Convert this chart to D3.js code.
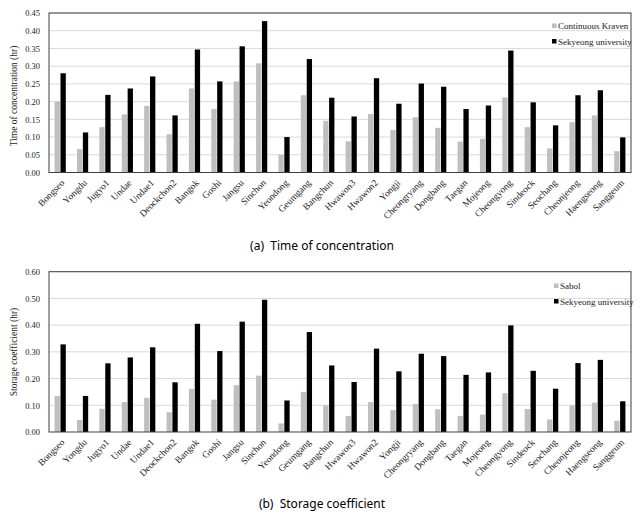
<!DOCTYPE html>
<html>
<head>
<meta charset="utf-8">
<script src="https://cdn.jsdelivr.net/npm/d3@7/dist/d3.min.js"></script>
<style>
  html, body { margin: 0; padding: 0; background: #fff; }
  svg { display: block; }
</style>
</head>
<body>
<svg id="chart" width="643" height="516"></svg>
<script>
const categories = ["Bongseo","Yongdu","Jugyo1","Undae","Undae1","Deockchon2","Bangok","Goshi","Jangsu","Sinchon","Yeondong","Geumgang","Bangchun","Hwawon3","Hwawon2","Yongji","Cheongryang","Dongbang","Taegan","Mojeong","Cheongyong","Sindeock","Seochang","Cheonjeong","Haengseong","Sanggeum"];

const tcKraven   = [0.200,0.066,0.128,0.164,0.188,0.108,0.237,0.179,0.257,0.308,0.050,0.218,0.146,0.088,0.165,0.120,0.156,0.126,0.087,0.095,0.212,0.128,0.068,0.142,0.161,0.060];
const tcSekyeong = [0.280,0.113,0.219,0.237,0.271,0.161,0.347,0.257,0.356,0.427,0.100,0.320,0.211,0.158,0.266,0.194,0.251,0.242,0.179,0.189,0.344,0.198,0.133,0.218,0.232,0.099];

const scSabol    = [0.135,0.045,0.087,0.112,0.128,0.074,0.161,0.121,0.175,0.211,0.032,0.150,0.100,0.060,0.112,0.082,0.105,0.085,0.060,0.065,0.145,0.086,0.047,0.099,0.110,0.042];
const scSekyeong = [0.328,0.135,0.257,0.279,0.317,0.186,0.405,0.303,0.413,0.495,0.118,0.374,0.249,0.187,0.312,0.227,0.293,0.284,0.214,0.223,0.399,0.229,0.162,0.258,0.270,0.115];

const tcTicks = [0.00,0.05,0.10,0.15,0.20,0.25,0.30,0.35,0.40,0.45];
const scTicks = [0.00,0.10,0.20,0.30,0.40,0.50,0.60];

const tcSeriesNames = ["Continuous Kraven","Sekyeong university"];
const scSeriesNames = ["Sabol","Sekyeong university"];
const seriesColors = ["#bfbfbf","#000000"];

const svg = d3.select("#chart");
svg.append("rect").attr("width",643).attr("height",516).attr("fill","#fff");

function drawChart(cfg) {
  const g = svg.append("g");
  const x0 = d3.scaleBand().domain(categories).range([cfg.left, cfg.right]).paddingInner(0.5).paddingOuter(0.25);
  const x1 = d3.scaleBand().domain([0,1]).range([0, x0.bandwidth()]).paddingInner(0.1);
  const y = d3.scaleLinear().domain([0, cfg.ticks[cfg.ticks.length-1]]).range([cfg.bottom, cfg.top]);

  // gridlines
  g.append("g").selectAll("line").data(cfg.ticks.slice(1)).join("line")
    .attr("x1", cfg.left).attr("x2", cfg.right)
    .attr("y1", d => y(d)).attr("y2", d => y(d))
    .attr("stroke", "#d9d9d9").attr("stroke-width", 1);

  // bars
  cfg.series.forEach((vals, si) => {
    g.append("g").selectAll("rect").data(vals).join("rect")
      .attr("x", (d,i) => x0(categories[i]) + x1(si))
      .attr("width", x1.bandwidth())
      .attr("y", d => y(d))
      .attr("height", d => y(0) - y(d))
      .attr("fill", seriesColors[si]);
  });

  // frame
  g.append("rect").attr("x", cfg.left).attr("y", cfg.top)
    .attr("width", cfg.right - cfg.left).attr("height", cfg.bottom - cfg.top)
    .attr("fill","none").attr("stroke","#404040").attr("stroke-width",1);

  // y axis
  const yAxis = d3.axisLeft(y).tickValues(cfg.ticks).tickFormat(d3.format(".2f")).tickSize(0).tickPadding(9);
  const ya = g.append("g").attr("transform", `translate(${cfg.left},0)`).call(yAxis);
  ya.select(".domain").remove();
  ya.selectAll("text").attr("font-family","'Liberation Serif', serif").attr("font-size","8.5px").attr("fill","#222");

  // x axis
  const xAxis = d3.axisBottom(x0).tickSize(0).tickPadding(0);
  const xa = g.append("g").attr("transform", `translate(0,${cfg.bottom})`).call(xAxis);
  xa.select(".domain").remove();
  xa.selectAll("text")
    .attr("font-family","'Liberation Serif', serif").attr("font-size","9.5px").attr("fill","#222")
    .attr("text-anchor","end")
    .attr("dy", null).attr("y", null)
    .attr("transform","translate(5,11) rotate(-45)");

  // y title
  g.append("text")
    .attr("transform", `translate(${cfg.titleX},${cfg.titleY}) rotate(-90)`)
    .attr("text-anchor","middle")
    .attr("font-family","'Liberation Serif', serif").attr("font-size","9.5px").attr("fill","#222")
    .text(cfg.yTitle);

  // legend
  cfg.names.forEach((n, i) => {
    const ly = cfg.legendY + i * 15.5;
    g.append("rect").attr("x", cfg.legendX).attr("y", ly - 2.5).attr("width", 4.5).attr("height", 4.5).attr("fill", seriesColors[i]);
    g.append("text").attr("x", cfg.legendX + 6).attr("y", ly + 3)
      .attr("font-family","'Liberation Serif', serif").attr("font-size","9px").attr("fill","#222")
      .text(n);
  });

  // caption
  g.append("text").attr("x", 322).attr("y", cfg.captionY)
    .attr("text-anchor","middle").attr("font-family","'Noto Sans', sans-serif").attr("font-size","12px")
    .attr("fill","#000").style("white-space","pre")
    .text(cfg.caption);
}

drawChart({
  left: 49, right: 631, top: 13, bottom: 172.5,
  ticks: tcTicks, series: [tcKraven, tcSekyeong], names: tcSeriesNames,
  yTitle: "Time of concentration (hr)", titleX: 17, titleY: 96,
  legendX: 552, legendY: 26,
  caption: "(a)  Time of concentration", captionY: 250
});

drawChart({
  left: 49, right: 631, top: 271.7, bottom: 432,
  ticks: scTicks, series: [scSabol, scSekyeong], names: scSeriesNames,
  yTitle: "Storage coefficient (hr)", titleX: 17, titleY: 352,
  legendX: 554, legendY: 286,
  caption: "(b)  Storage coefficient", captionY: 508
});
</script>
</body>
</html>
